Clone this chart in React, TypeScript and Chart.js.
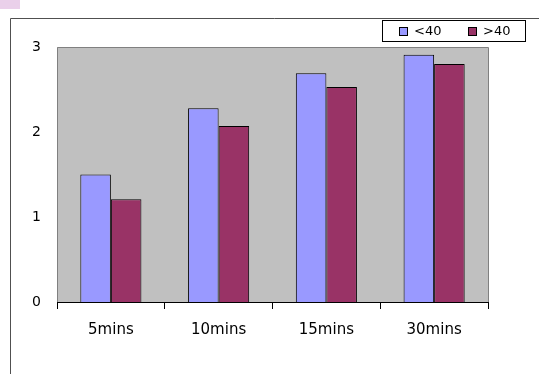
import React, { useEffect, useRef } from "react";
import { Chart, registerables } from "chart.js";

Chart.register(...registerables);

const categories = ["5mins", "10mins", "15mins", "30mins"];
const seriesNames = ["<40", ">40"];
const under40 = [1.5, 2.28, 2.69, 2.91];
const over40 = [1.21, 2.07, 2.53, 2.8];
const yTicks = [0, 1, 2, 3];
const colors = ["#9999ff", "#993366"];

const decorPlugin = {
  id: "decor",
  beforeDraw(chart: any) {
    const ctx = chart.ctx;
    const { left, right, top, bottom } = chart.chartArea;
    ctx.save();
    ctx.fillStyle = "#ffffff";
    ctx.fillRect(0, 0, chart.width, chart.height);
    // pink corner mark
    ctx.fillStyle = "#ead0ea";
    ctx.fillRect(0, 0, 20, 9);
    // outer frame
    ctx.strokeStyle = "#505050";
    ctx.lineWidth = 1;
    ctx.beginPath();
    ctx.moveTo(10.5, chart.height);
    ctx.lineTo(10.5, 18.5);
    ctx.lineTo(chart.width, 18.5);
    ctx.stroke();
    // plot area
    ctx.fillStyle = "#c0c0c0";
    ctx.fillRect(left, top, right - left, bottom - top);
    ctx.strokeStyle = "#808080";
    ctx.beginPath();
    ctx.moveTo(Math.round(left) + 0.5, bottom);
    ctx.lineTo(Math.round(left) + 0.5, Math.round(top) + 0.5);
    ctx.lineTo(Math.round(right) + 0.5, Math.round(top) + 0.5);
    ctx.lineTo(Math.round(right) + 0.5, bottom);
    ctx.stroke();
    ctx.restore();
  },
  afterDraw(chart: any) {
    const ctx = chart.ctx;
    ctx.save();
    // legend box
    const bx = 382.5, by = 20.5, bw = 143, bh = 21;
    ctx.fillStyle = "#ffffff";
    ctx.fillRect(bx, by, bw, bh);
    ctx.strokeStyle = "#000000";
    ctx.lineWidth = 1;
    ctx.strokeRect(bx, by, bw, bh);
    const items = chart.data.datasets;
    const sqX = [399, 468];
    ctx.font = "13px 'DejaVu Sans'";
    ctx.textBaseline = "middle";
    items.forEach((ds: any, i: number) => {
      ctx.fillStyle = ds.backgroundColor;
      ctx.fillRect(sqX[i] + 0.5, 27.5, 8, 8);
      ctx.strokeStyle = "#000000";
      ctx.strokeRect(sqX[i] + 0.5, 27.5, 8, 8);
      ctx.fillStyle = "#000000";
      ctx.fillText(ds.label, sqX[i] + 15, 32);
    });
    ctx.restore();
  },
};

export default function App() {
  const ref = useRef<HTMLCanvasElement>(null);
  useEffect(() => {
    if (!ref.current) return;
    const chart = new Chart(ref.current, {
      type: "bar",
      data: {
        labels: categories,
        datasets: [
          {
            label: seriesNames[0],
            data: under40,
            backgroundColor: colors[0],
            borderColor: "#000000",
            borderWidth: 1,
          },
          {
            label: seriesNames[1],
            data: over40,
            backgroundColor: colors[1],
            borderColor: "#000000",
            borderWidth: 1,
          },
        ],
      },
      options: {
        responsive: false,
        animation: false,
        maintainAspectRatio: false,
        layout: { padding: { top: 47, right: 51, left: 0, bottom: 0 } },
        datasets: { bar: { barPercentage: 1, categoryPercentage: 0.567 } },
        plugins: {
          legend: { display: false },
          tooltip: { enabled: false },
        },
        scales: {
          x: {
            grid: {
              display: true,
              drawOnChartArea: false,
              drawTicks: true,
              tickLength: 7,
              color: "#000000",
              offset: true,
            },
            border: { display: true, color: "#000000", width: 1 },
            ticks: {
              padding: 12,
              color: "#000000",
              font: { family: "'DejaVu Sans'", size: 15 },
            },
            afterFit(scale: any) {
              scale.height = 72;
            },
          },
          y: {
            min: 0,
            max: 3,
            afterBuildTicks(scale: any) {
              scale.ticks = yTicks.map((v) => ({ value: v }));
            },
            grid: { display: false, drawTicks: false },
            border: { display: false },
            ticks: {
              padding: 16,
              color: "#000000",
              font: { family: "'DejaVu Sans'", size: 14 },
            },
            afterFit(scale: any) {
              scale.width = 57;
            },
          },
        },
      },
      plugins: [decorPlugin],
    });
    return () => chart.destroy();
  }, []);
  return (
    <div style={{ position: "fixed", left: 0, top: 0, width: 539, height: 374, background: "#fff" }}>
      <canvas ref={ref} width={539} height={374} style={{ width: 539, height: 374, display: "block" }} />
    </div>
  );
}
